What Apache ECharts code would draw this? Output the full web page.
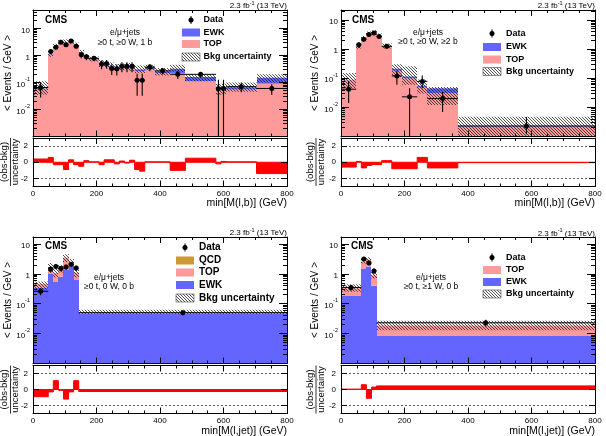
<!DOCTYPE html>
<html>
<head>
<meta charset="utf-8">
<script src="https://cdn.jsdelivr.net/npm/echarts@6/dist/echarts.min.js"></script>
<style>
  html, body { margin: 0; padding: 0; background: #fff; }
  #main { width: 606px; height: 436px; }
</style>
</head>
<body>
<div id="main"></div>
<script>
// ---- panel 1 : min[M(l,b)], >=0 t, >=0 W, 1 b
const p1Edges = [0, 48, 64, 80, 96, 112, 128, 144, 160, 176, 208, 224, 240, 256, 272, 288, 304, 320, 336, 352, 384, 432, 480, 576, 592, 608, 704, 800]
const p1Top = [0.055, 1.05, 2.1, 3.0, 3.0, 3.1, 2.3, 1.2, 0.8, 0.7, 0.45, 0.42, 0.35, 0.3, 0.33, 0.35, 0.32, 0.26, 0.26, 0.3, 0.22, 0.22, 0.11, 0.055, 0.055, 0.055, 0.09]
const p1Ewk = [0.005, 0.05, 0.08, 0.1, 0.1, 0.1, 0.1, 0.08, 0.06, 0.06, 0.06, 0.06, 0.06, 0.05, 0.05, 0.05, 0.05, 0.04, 0.04, 0.07, 0.04, 0.1, 0.05, 0.01, 0.01, 0.012, 0.06]
const p1BandLo = [0.035, 0.9, 1.8, 2.6, 2.6, 2.7, 1.95, 0.95, 0.68, 0.6, 0.37, 0.35, 0.28, 0.25, 0.27, 0.28, 0.26, 0.22, 0.22, 0.28, 0.18, 0.25, 0.11, 0.035, 0.035, 0.045, 0.1]
const p1BandHi = [0.11, 1.35, 2.7, 3.8, 3.9, 4.0, 3.0, 1.6, 1.05, 0.92, 0.68, 0.62, 0.55, 0.48, 0.5, 0.52, 0.48, 0.42, 0.42, 0.45, 0.34, 0.45, 0.2, 0.09, 0.09, 0.1, 0.2]
const p1Data = [0.065, 1.4, 2.0, 3.1, 2.5, 3.4, 2.2, 1.05, 0.9, 0.78, 0.48, 0.5, 0.33, 0.32, 0.4, 0.4, 0.4, 0.12, 0.12, 0.37, 0.27, 0.2, 0.2, 0.06, 0.06, 0.07, 0.06]
const p1DataLo = [0.028, 1.1, 1.65, 2.66, 2.1, 2.94, 1.83, 0.79, 0.66, 0.62, 0.31, 0.32, 0.19, 0.18, 0.24, 0.24, 0.24, 0.032, 0.032, 0.26, 0.195, 0.135, 0.154, 0.0005, 0.0005, 0.043, 0.035]
const p1DataHi = [0.1, 1.7, 2.35, 3.54, 2.9, 3.86, 2.57, 1.31, 1.14, 0.94, 0.65, 0.68, 0.47, 0.46, 0.56, 0.56, 0.56, 0.21, 0.21, 0.48, 0.345, 0.265, 0.246, 0.125, 0.125, 0.097, 0.085]
const p1Pull = [0.4, 0.6, -0.3, -0.3, -0.9, 0.3, -0.3, -0.5, 0.2, 0.05, -0.3, 0.3, 0.3, -0.2, 0.15, -0.1, 0.25, -0.9, -1.1, 0.05, 0.05, -1.0, 0.5, -0.2, 0.1, 0.05, -1.4]

// ---- panel 2 : min[M(l,b)], >=0 t, >=0 W, >=2 b
const p2Edges = [0, 48, 64, 80, 96, 112, 128, 160, 192, 240, 272, 368, 800]
const p2Top = [0.085, 1.25, 2.3, 3.3, 3.6, 2.8, 1.25, 0.18, 0.1, 0.048, 0.031, 0.0022]
const p2Ewk = [0.003, 0.03, 0.05, 0.06, 0.06, 0.05, 0.03, 0.03, 0.015, 0.007, 0.014, 0.0001]
const p2BandLo = [0.045, 1.05, 1.95, 2.8, 3.1, 2.4, 1.05, 0.11, 0.06, 0.03, 0.012, 0.0005]
const p2BandHi = [0.15, 1.55, 2.8, 4.0, 4.4, 3.4, 1.55, 0.3, 0.26, 0.09, 0.05, 0.0048]
const p2Data = [0.042, 1.4, 2.2, 3.2, 3.6, 2.7, 1.25, 0.12, 0.023, 0.078, 0.02, 0.0023]
const p2DataLo = [0.014, 1.1, 1.83, 2.75, 3.13, 2.29, 1.05, 0.06, 0.0005, 0.045, 0.007, 0.0012]
const p2DataHi = [0.08, 1.7, 2.57, 3.65, 4.07, 3.11, 1.45, 0.18, 0.045, 0.125, 0.034, 0.0047]
const p2Pull = [-0.6, 0.1, -0.7, -0.4, -0.3, -0.3, 0.2, -0.8, -0.8, 0.6, -0.7, -0.05]

// ---- panel 3 : min[M(l,jet)], >=0 t, 0 W, 0 b
const p3Edges = [0, 48, 64, 80, 96, 112, 128, 144, 800]
const p3Ewk = [0.34, 1.0, 0.55, 0.8, 1.4, 1.9, 0.62, 0.045]
const p3Top = [0.11, 0.6, 0.5, 0.7, 2.0, 0.5, 0.45, 0.004]
const p3Qcd = [0.004, 0.01, 0.01, 0.01, 0.01, 0.01, 0.01, 0.002]
const p3BandLo = [0.3, 1.05, 0.75, 1.1, 2.5, 1.85, 0.75, 0.045]
const p3BandHi = [0.55, 2.3, 1.45, 2.0, 4.5, 3.1, 1.5, 0.063]
const p3Data = [0.26, 1.45, 1.75, 1.5, 1.7, 2.1, 1.55, 0.05]
const p3DataLo = [0.19, 1.15, 1.42, 1.19, 1.37, 1.74, 1.24, 0.041]
const p3DataHi = [0.33, 1.75, 2.08, 1.81, 2.03, 2.46, 1.86, 0.059]
const p3Pull = [-0.9, -0.3, 1.1, -0.1, -1.2, -0.3, 1.1, -0.25]

// ---- panel 4 : min[M(l,jet)], >=0 t, >=1 W, 0 b
const p4Edges = [0, 64, 80, 96, 112, 800]
const p4Ewk = [0.18, 1.5, 1.75, 0.4, 0.0083]
const p4Top = [0.15, 1.1, 1.25, 0.5, 0.0105]
const p4BandLo = [0.25, 2.2, 2.5, 0.7, 0.013]
const p4BandHi = [0.45, 3.1, 3.6, 1.15, 0.027]
const p4Data = [0.35, 3.1, 2.3, 1.25, 0.023]
const p4DataLo = [0.275, 2.66, 1.92, 0.97, 0.0172]
const p4DataHi = [0.425, 3.54, 2.68, 1.53, 0.0288]
const p4Pull = [0.05, 0.6, -1.1, 0.3, 0.45]

// ---- ticks and texts
const xTicks = [0, 200, 400, 600, 800]
const logTicks = [0.01, 0.1, 1, 10]
const logLabels = ['{b|10}{s|-2}', '{b|10}{s|-1}', '{b|1}', '{b|10}']
const pullTicks = [-2, 0, 2]
const xTitles = ['min[M(l,b)] (GeV)', 'min[M(l,b)] (GeV)', 'min[M(l,jet)] (GeV)', 'min[M(l,jet)] (GeV)']
const regionText = [
  ['e/μ+jets', '≥0 t, ≥0 W, 1 b'],
  ['e/μ+jets', '≥0 t, ≥0 W, ≥2 b'],
  ['e/μ+jets', '≥0 t, 0 W, 0 b'],
  ['e/μ+jets', '≥0 t, ≥1 W, 0 b']
]

const FONT = '"Liberation Sans", Arial, Helvetica, sans-serif'
const TOP_C = '#ff9a9a'
const EWK_C = '#6464ff'
const QCD_C = '#cc9933'
const PULL_C = '#ff0000'

function hatchCanvas() {
  const c = document.createElement('canvas')
  c.width = 3; c.height = 3
  const g = c.getContext('2d')
  g.strokeStyle = 'rgba(25,25,25,0.85)'
  g.lineWidth = 0.9
  g.beginPath()
  g.moveTo(-1, -1); g.lineTo(4, 4)
  g.moveTo(-1, 2); g.lineTo(1, 4)
  g.moveTo(2, -1); g.lineTo(4, 1)
  g.stroke()
  return c
}
const HATCH = { image: hatchCanvas(), repeat: 'repeat' }

// panel layout (pixels)
const panels = [
  { left: 33, top: 10, mainH: 126.5, rTop: 138, rH: 48.5, ymax: 48,
    edges: p1Edges, stack: [[p1Top, TOP_C], [p1Ewk, EWK_C]], bLo: p1BandLo, bHi: p1BandHi,
    data: p1Data, dLo: p1DataLo, dHi: p1DataHi, pull: p1Pull,
    leg: { box: 182, txt: 203.5, fs: 9, rows: [['Data', 20], ['EWK', 32.5, EWK_C], ['TOP', 44, TOP_C], ['Bkg uncertainty', 57, 'band']] },
    reg: [125, 33, 42.5], cms: [45, 20], lumi: [287, 5], xt: [287, 203], yt: [8.5, 73], rt: [4.5, 15.5, 162] },
  { left: 341, top: 10, mainH: 126.5, rTop: 138, rH: 48.5, ymax: 22,
    edges: p2Edges, stack: [[p2Top, TOP_C], [p2Ewk, EWK_C]], bLo: p2BandLo, bHi: p2BandHi,
    data: p2Data, dLo: p2DataLo, dHi: p2DataHi, pull: p2Pull,
    leg: { box: 483, txt: 506, fs: 9, rows: [['Data', 33.5], ['EWK', 47, EWK_C], ['TOP', 59.5, TOP_C], ['Bkg uncertainty', 71.5, 'band']] },
    reg: [428, 32.5, 42], cms: [352, 20], lumi: [595, 5], xt: [595, 203], yt: [315, 73], rt: [310, 321, 162] },
  { left: 33, top: 237, mainH: 126.5, rTop: 365.5, rH: 48, ymax: 17,
    edges: p3Edges, stack: [[p3Ewk, EWK_C], [p3Top, TOP_C], [p3Qcd, QCD_C]], bLo: p3BandLo, bHi: p3BandHi,
    data: p3Data, dLo: p3DataLo, dHi: p3DataHi, pull: p3Pull,
    leg: { box: 176, txt: 199, fs: 10, rows: [['Data', 247.5], ['QCD', 260.5, QCD_C], ['TOP', 272.5, TOP_C], ['EWK', 285, EWK_C], ['Bkg uncertainty', 298, 'band']] },
    reg: [109, 278, 286.5], cms: [45, 246.5], lumi: [287, 232], xt: [287, 431], yt: [8.5, 300], rt: [4.5, 15.5, 389.5] },
  { left: 341, top: 237, mainH: 126.5, rTop: 365.5, rH: 48, ymax: 17,
    edges: p4Edges, stack: [[p4Ewk, EWK_C], [p4Top, TOP_C]], bLo: p4BandLo, bHi: p4BandHi,
    data: p4Data, dLo: p4DataLo, dHi: p4DataHi, pull: p4Pull,
    leg: { box: 483, txt: 506, fs: 9, rows: [['Data', 257.5], ['TOP', 270, TOP_C], ['EWK', 282, EWK_C], ['Bkg uncertainty', 294, 'band']] },
    reg: [431, 278, 286.5], cms: [351, 246.5], lumi: [595, 232.5], xt: [595, 431], yt: [315, 300], rt: [310, 321, 389.5] }
]

const majorLog = [0.001, 0.01, 0.1, 1, 10]
const minorLog = []
for (let k = -3; k <= 1; k++) {
  for (let m = 2; m <= 9; m++) minorLog.push(Number((m * Math.pow(10, k)).toPrecision(3)))
}

function xAxis(grid, pos, labels) {
  return {
    type: 'value', gridIndex: grid, position: pos, min: 0, max: 800, interval: 200, z: 10,
    axisLine: { show: true, onZero: false, lineStyle: { color: '#000', width: 1 } },
    splitLine: { show: false },
    axisTick: { show: true, inside: true, length: 6, lineStyle: { color: '#000' } },
    minorTick: { show: true, splitNumber: 4, length: 3, lineStyle: { color: '#000' } },
    axisLabel: { show: labels, customValues: xTicks, margin: 3, fontSize: 8, color: '#000', fontFamily: FONT }
  }
}

function logAxis(grid, pos, max, minor) {
  return {
    type: 'log', logBase: 10, gridIndex: grid, position: pos, min: 0.001, max: max, z: 10,
    axisLine: { show: !minor, onZero: false, lineStyle: { color: '#000', width: 1 } },
    splitLine: { show: false },
    axisTick: { show: true, inside: true, length: minor ? 4 : 8, customValues: minor ? minorLog : majorLog, lineStyle: { color: '#000' } },
    axisLabel: {
      show: pos === 'left' && !minor, customValues: logTicks, margin: 3, color: '#000',
      formatter: v => {
        const i = logTicks.findIndex(t => Math.abs(Math.log10(t) - Math.log10(v)) < 0.01)
        return i < 0 ? '' : logLabels[i]
      },
      rich: {
        b: { fontSize: 8, fontFamily: FONT, color: '#000', lineHeight: 12, verticalAlign: 'bottom' },
        s: { fontSize: 5.5, fontFamily: FONT, color: '#000', verticalAlign: 'top' }
      }
    }
  }
}

function pullAxis(grid, pos) {
  return {
    type: 'value', gridIndex: grid, position: pos, min: -3, max: 3, z: 10,
    axisLine: { show: true, onZero: false, lineStyle: { color: '#000', width: 1 } },
    splitLine: { show: false },
    axisTick: { show: true, inside: true, length: 6, customValues: pullTicks, lineStyle: { color: '#000' } },
    axisLabel: { show: pos === 'left', customValues: pullTicks, margin: 5, fontSize: 8, color: '#000', fontFamily: FONT }
  }
}

function rectSeries(xi, yi, edges, lo, hi, style, z) {
  return {
    type: 'custom', xAxisIndex: xi, yAxisIndex: yi, clip: true, silent: true, z: z,
    encode: { x: [0, 1], y: [2, 3] },
    data: lo.map((v, i) => [edges[i], edges[i + 1], v, hi[i]]),
    renderItem: function (params, api) {
      const a = api.coord([api.value(0), api.value(3)])
      const b = api.coord([api.value(1), api.value(2)])
      const x0 = Math.round(a[0]), x1 = Math.round(b[0])
      return { type: 'rect', shape: { x: x0, y: a[1], width: x1 - x0, height: b[1] - a[1] }, style: style }
    }
  }
}

function dataSeries(xi, yi, edges, val, lo, hi) {
  return {
    type: 'custom', xAxisIndex: xi, yAxisIndex: yi, clip: true, silent: true, z: 5,
    encode: { x: [0, 1], y: [2, 3, 4] },
    data: val.map((v, i) => [edges[i], edges[i + 1], v, lo[i], hi[i]]),
    renderItem: function (params, api) {
      const xm = (api.value(0) + api.value(1)) / 2
      const c = api.coord([xm, api.value(2)])
      const l = api.coord([api.value(0), api.value(2)])
      const r = api.coord([api.value(1), api.value(2)])
      const d = api.coord([xm, api.value(3)])
      const t = api.coord([xm, api.value(4)])
      return {
        type: 'group', children: [
          { type: 'line', shape: { x1: l[0], y1: l[1], x2: r[0], y2: r[1] }, style: { stroke: '#000', lineWidth: 1 } },
          { type: 'line', shape: { x1: t[0], y1: t[1], x2: d[0], y2: d[1] }, style: { stroke: '#000', lineWidth: 1.1 } },
          { type: 'circle', shape: { cx: c[0], cy: c[1], r: 2.5 }, style: { fill: '#000' } }
        ]
      }
    }
  }
}

function pullSeries(xi, yi, edges, pull) {
  return {
    type: 'custom', xAxisIndex: xi, yAxisIndex: yi, clip: true, silent: true, z: 3,
    encode: { x: [0, 1], y: [2] },
    data: pull.map((v, i) => [edges[i], edges[i + 1], v]),
    renderItem: function (params, api) {
      const v = api.value(2)
      const a = api.coord([api.value(0), Math.max(v, 0)])
      const b = api.coord([api.value(1), Math.min(v, 0)])
      return { type: 'rect', shape: { x: a[0], y: a[1], width: b[0] - a[0], height: b[1] - a[1] },
        style: { fill: PULL_C, stroke: PULL_C, lineWidth: 1 } }
    },
    markLine: {
      silent: true, symbol: ['none', 'none'], label: { show: false }, animation: false,
      lineStyle: { color: '#333', type: [2, 2], width: 0.8 },
      data: [{ yAxis: 2 }, { yAxis: -2 }]
    }
  }
}

const grids = [], xAxes = [], yAxes = [], series = [], graphics = []

function text(x, y, str, font, align, extra) {
  graphics.push(Object.assign({
    type: 'text', x: x, y: y, silent: true, z: 20,
    style: { text: str, font: font, fill: '#000', align: align || 'left', verticalAlign: 'middle' }
  }, extra || {}))
}

panels.forEach((P, p) => {
  grids.push({ left: P.left, top: P.top, width: 254, height: P.mainH })
  grids.push({ left: P.left, top: P.rTop, width: 254, height: P.rH })
  const gm = 2 * p, gr = 2 * p + 1
  xAxes.push(xAxis(gm, 'bottom', false), xAxis(gm, 'top', false), xAxis(gr, 'bottom', true), xAxis(gr, 'top', false))
  yAxes.push(logAxis(gm, 'left', P.ymax, false), logAxis(gm, 'left', P.ymax, true),
    logAxis(gm, 'right', P.ymax, false), logAxis(gm, 'right', P.ymax, true),
    pullAxis(gr, 'left'), pullAxis(gr, 'right'))
  const xm = 4 * p, xr = 4 * p + 2, ym = 6 * p, yr = 6 * p + 4

  // stacked backgrounds
  let base = P.edges.slice(1).map(() => 0.0001)
  P.stack.forEach(([vals, color]) => {
    const upper = vals.map((v, i) => (base[i] > 0.0001 ? base[i] : 0) + v)
    series.push(rectSeries(xm, ym, P.edges, base, upper, { fill: color }, 2))
    base = upper
  })
  series.push(rectSeries(xm, ym, P.edges, P.bLo, P.bHi, { fill: HATCH }, 3))
  series.push(dataSeries(xm, ym, P.edges, P.data, P.dLo, P.dHi))
  series.push(pullSeries(xr, yr, P.edges, P.pull))

  // texts
  text(P.cms[0], P.cms[1], 'CMS', 'bold 10px ' + FONT)
  graphics.push({
    type: 'text', x: P.lumi[0], y: P.lumi[1], silent: true, z: 20,
    style: { text: '{b|2.3 fb}{s|-1}{b| (13 TeV)}', align: 'right', verticalAlign: 'middle',
      rich: { b: { fontSize: 8, fontFamily: FONT, fill: '#000', lineHeight: 10, verticalAlign: 'bottom' },
              s: { fontSize: 5.5, fontFamily: FONT, fill: '#000', verticalAlign: 'top' } } }
  })
  text(P.reg[0], P.reg[1], regionText[p][0], '8.5px ' + FONT, 'center')
  text(P.reg[0], P.reg[2], regionText[p][1], '8.5px ' + FONT, 'center')
  text(P.xt[0], P.xt[1], xTitles[p], '10.5px ' + FONT, 'right')
  text(P.yt[0], P.yt[1], '< Events / GeV >', '10px ' + FONT, 'center', { rotation: Math.PI / 2 })
  text(P.rt[0], P.rt[2], '(obs-bkg)', '9.5px ' + FONT, 'center', { rotation: Math.PI / 2 })
  text(P.rt[1], P.rt[2], 'uncertainty', '9.5px ' + FONT, 'center', { rotation: Math.PI / 2 })
  const fx = (P.rt[0] + P.rt[1]) / 2 + 0.5
  graphics.push({ type: 'line', silent: true, z: 20, shape: { x1: fx, y1: P.rt[2] - 24, x2: fx, y2: P.rt[2] + 24 }, style: { stroke: '#000', lineWidth: 0.8 } })

  // legend
  const L = P.leg
  L.rows.forEach(([name, y, kind]) => {
    if (!kind) {
      const mx = L.box + 9
      graphics.push({ type: 'line', silent: true, z: 20, shape: { x1: mx, y1: y - 4, x2: mx, y2: y + 4 }, style: { stroke: '#000', lineWidth: 1 } })
      graphics.push({ type: 'circle', silent: true, z: 20, shape: { cx: mx, cy: y, r: 2.5 }, style: { fill: '#000' } })
    } else if (kind === 'band') {
      graphics.push({ type: 'rect', silent: true, z: 20, shape: { x: L.box, y: y - 4, width: 18, height: 8 }, style: { fill: HATCH, stroke: '#444', lineWidth: 0.6 } })
    } else {
      graphics.push({ type: 'rect', silent: true, z: 20, shape: { x: L.box, y: y - 4, width: 18, height: 8 }, style: { fill: kind } })
    }
    text(L.txt, y, name, 'bold ' + L.fs + 'px ' + FONT)
  })
})

const chart = echarts.init(document.getElementById('main'), null, { renderer: 'canvas' })
chart.setOption({
  animation: false,
  backgroundColor: '#fff',
  textStyle: { fontFamily: FONT },
  grid: grids,
  xAxis: xAxes,
  yAxis: yAxes,
  series: series,
  graphic: graphics
})
</script>
</body>
</html>
